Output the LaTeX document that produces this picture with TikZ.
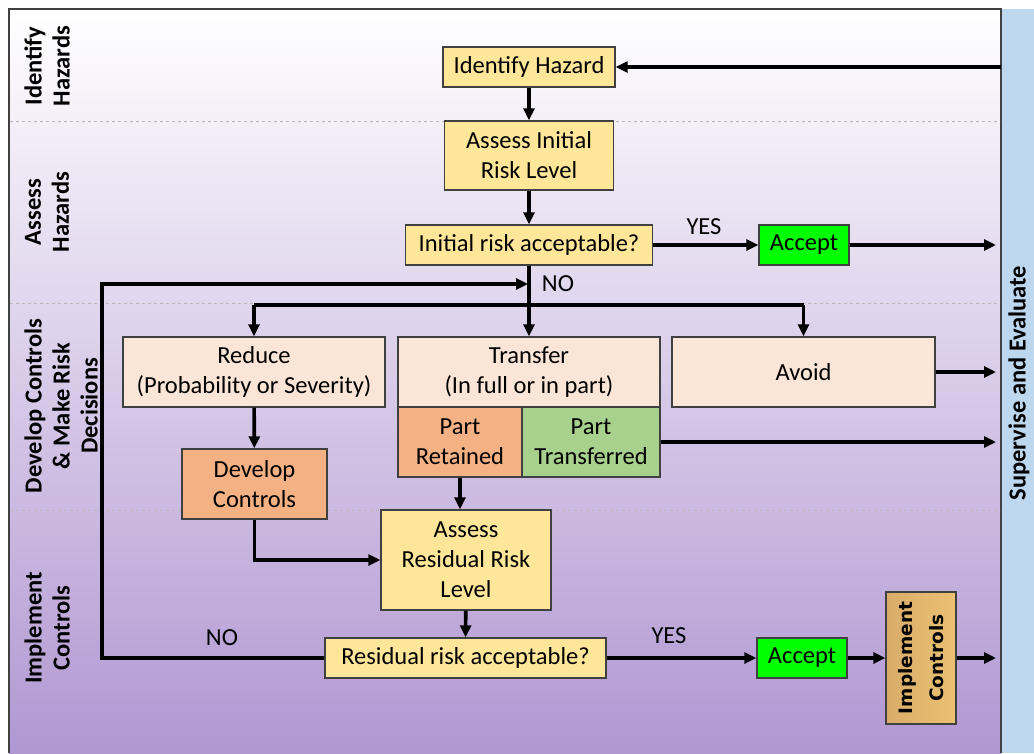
\documentclass[tikz,border=0pt]{standalone}
\usepackage{fontspec}
\setmainfont{Carlito}
\newfontfamily\implfont{DejaVu Sans}
\usetikzlibrary{arrows.meta,calc}
\definecolor{ylw}{HTML}{FFE699}
\definecolor{peach}{HTML}{FBE5D6}
\definecolor{orng}{HTML}{F4B183}
\definecolor{lgrn}{HTML}{A9D18E}
\definecolor{bgrn}{HTML}{00FF00}
\definecolor{tantop}{HTML}{EAC272}
\definecolor{tanbot}{HTML}{D9AC69}
\definecolor{band}{HTML}{BDD7EE}
\definecolor{bgp}{HTML}{B197D2}
\definecolor{edge}{HTML}{404040}
\begin{document}
\begin{tikzpicture}[x=1pt,y=-1pt,
  every node/.style={font=\fontsize{24.5}{30}\selectfont, inner sep=0pt, align=center},
  box/.style={draw=edge, line width=1.4pt, inner sep=0pt},
  conn/.style={line width=3.6pt, -{Triangle[length=12pt,width=11pt]}},
  plain/.style={line width=3.6pt},
  lane/.style={rotate=90, font=\fontsize{24.5}{28}\selectfont\bfseries},
  sepline/.style={gray!55, dashed, line width=0.6pt}]
\useasboundingbox (0,0) rectangle (1034,753);
% background
\fill[white] (0,0) rectangle (1034,753);
\shade[top color=white, bottom color=bgp] (9,9) rectangle (1001,753);
\fill[band] (1001,9) rectangle (1034,753);
\draw[edge, line width=1.2pt] (9,753) -- (9,9) -- (1001,9) -- (1001,753);
\draw[sepline] (10,121) -- (1000,121);
\draw[sepline] (10,303) -- (1000,303);
\draw[sepline] (10,510) -- (1000,510);
% lane labels
\node[lane] (l1) at (47,66) {Identify\\Hazards};
\node[lane] (l2) at (47,212) {Assess\\Hazards};
\node[lane] (l3) at (61,406) {Develop Controls\\\& Make Risk\\Decisions};
\node[lane] (l4) at (47,628) {Implement\\Controls};
\node[lane] (sv) at (1019,383) {Supervise and Evaluate};
% boxes
\node[box, fill=ylw, minimum width=172pt, minimum height=40pt] (ih) at (529,67) {Identify Hazard};
\node[box, fill=ylw, minimum width=169pt, minimum height=69pt] (aii) at (529,155.5) {Assess Initial\\Risk Level};
\node[box, fill=ylw, minimum width=247pt, minimum height=40pt] (ira) at (529,245) {Initial risk acceptable?};
\node[box, fill=bgrn, minimum width=90pt, minimum height=40pt] (acc1) at (804,245) {Accept};
\node[box, fill=peach, minimum width=262pt, minimum height=70pt] (red) at (254,372) {Reduce\\(Probability or Severity)};
\node[box, fill=peach, minimum width=262pt, minimum height=70pt] (trf) at (529,372) {Transfer\\(In full or in part)};
\node[box, fill=peach, minimum width=263pt, minimum height=70pt] (avd) at (803.5,372) {Avoid};
\node[box, fill=orng, minimum width=124pt, minimum height=70pt] (pr) at (460,442) {Part\\Retained};
\node[box, fill=lgrn, minimum width=138pt, minimum height=70pt] (pt) at (591,442) {Part\\Transferred};
\node[box, fill=orng, minimum width=145pt, minimum height=70pt] (dc) at (254.5,484) {Develop\\Controls};
\node[box, fill=ylw, minimum width=170pt, minimum height=100pt] (arr) at (466,560) {Assess\\Residual Risk\\Level};
\node[box, fill=ylw, minimum width=281pt, minimum height=40pt] (rra) at (465.5,658) {Residual risk acceptable?};
\node[box, fill=bgrn, minimum width=90pt, minimum height=40pt] (acc2) at (802,658) {Accept};
\node[box, left color=tanbot, right color=tantop, rotate=90, minimum width=132pt, minimum height=70pt,
      font=\implfont\bfseries\fontsize{18.5}{31}\selectfont] (ic) at (921,658) {Implement\\Controls};
% labels
\node (yes1) at (704,227) {YES};
\node (no1) at (558,284) {NO};
\node (no2) at (222,638) {NO};
\node (yes2) at (669,636) {YES};
% coordinates
\coordinate (src) at (1001,67);
\coordinate (o1) at (996,245);
\coordinate (o2) at (996,372);
\coordinate (o3) at (996,442);
\coordinate (o4) at (996,658);
\coordinate (jl) at (254,305);
\coordinate (jr) at (803.5,305);
\coordinate (lb) at (102,658);
\coordinate (lt) at (102,284);
\coordinate (le) at (528,284);
% connectors
\draw[conn] (src) -- (ih);
\draw[conn] (ih) -- (aii);
\draw[conn] (aii) -- (ira);
\draw[conn] (ira) -- (acc1);
\draw[conn] (acc1) -- (o1);
\draw[conn] (ira) -- (trf);
\draw[plain] (jl) -- (jr);
\draw[conn] (jl) -- (red);
\draw[conn] (jr) -- (avd);
\draw[conn] (rra.west) -- (lb) -- (lt) -- (le);
\draw[conn] (avd) -- (o2);
\draw[conn] (pt.east |- o3) -- (o3);
\draw[conn] (red) -- (dc);
\draw[conn] (dc.south) |- (arr.west);
\draw[conn] (pr.south) -- (pr.south |- arr.north);
\draw[conn] (arr) -- (rra);
\draw[conn] (rra) -- (acc2);
\draw[conn] (acc2) -- (ic);
\draw[conn] (ic) -- (o4);
\end{tikzpicture}
\end{document}
